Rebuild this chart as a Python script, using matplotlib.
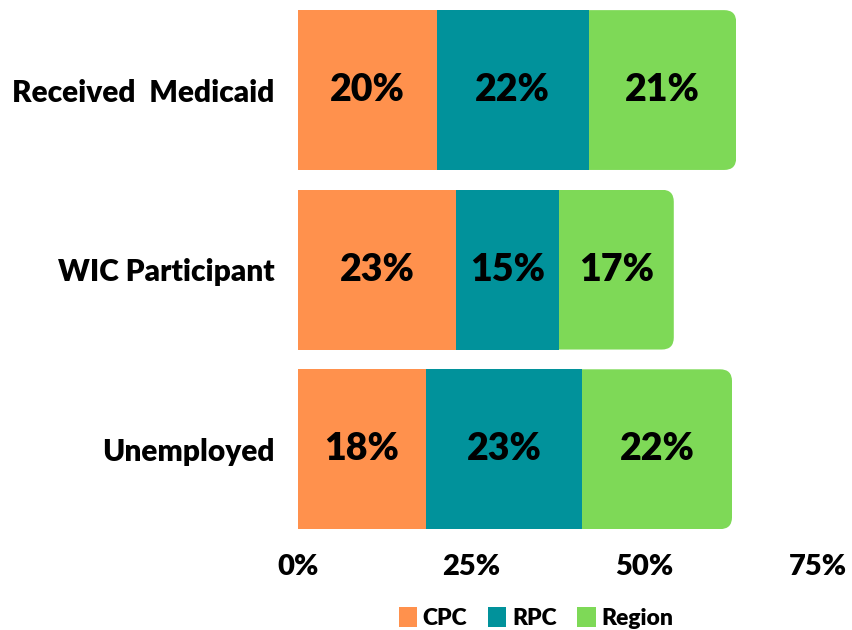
import matplotlib
matplotlib.use("Agg")
import matplotlib.pyplot as plt
from matplotlib.patches import FancyBboxPatch, Patch

categories = ["Received  Medicaid", "WIC Participant", "Unemployed"]
series_names = ["CPC", "RPC", "Region"]
cpc = [20.0, 22.8, 18.4]
rpc = [21.9, 14.8, 22.6]
region = [21.3, 16.6, 21.6]
labels_cpc = ["20%", "23%", "18%"]
labels_rpc = ["22%", "15%", "23%"]
labels_region = ["21%", "17%", "22%"]
xticks = [0, 25, 50, 75]
xticklabels = ["0%", "25%", "50%", "75%"]

colors = ["#FF914D", "#01929B", "#7ED957"]
FONT = ["Lato", "DejaVu Sans"]
plt.rcParams['font.family'] = FONT
WEIGHT = "heavy"

W, H = 852, 630
fig = plt.figure(figsize=(W / 100, H / 100), dpi=100)
left, right = 298 / W, 818 / W
top, bottom = 1 - 0.25 / H, 1 - 539 / H
ax = fig.add_axes([left, bottom, right - left, top - bottom])

y = list(range(len(categories)))
h = 0.89
b1 = ax.barh(y, cpc, height=h, color=colors[0], linewidth=0)
lefts2 = cpc
b2 = ax.barh(y, rpc, left=lefts2, height=h, color=colors[1], linewidth=0)
lefts3 = [a + b for a, b in zip(cpc, rpc)]
b3 = ax.barh(y, region, left=lefts3, height=h, color=colors[2], linewidth=0)

ax.set_xlim(0, 75)
ax.set_ylim(len(categories) - 0.5, -0.5)

# rounded right corners on the last segment
px_x = (right - left) * W / 75.0
px_y = (top - bottom) * H / len(categories)
r_px = 12
for i, rect in enumerate(b3):
    total = lefts3[i] + region[i]
    clip = FancyBboxPatch((0, y[i] - h / 2), total, h,
                          boxstyle=f"round,pad=0,rounding_size={r_px / px_x}",
                          mutation_aspect=px_x / px_y,
                          transform=ax.transData, facecolor="none", edgecolor="none")
    ax.add_patch(clip)
    rect.set_clip_path(clip)

for bars, labs in [(b1, labels_cpc), (b2, labels_rpc), (b3, labels_region)]:
    ax.bar_label(bars, labels=labs, label_type="center", fontsize=27,
                 fontweight=WEIGHT, color="black")

ax.set_yticks(y)
ax.set_yticklabels(categories, fontsize=21.5, fontweight=WEIGHT)
ax.set_xticks(xticks)
ax.set_xticklabels(xticklabels, fontsize=21, fontweight=WEIGHT)
ax.tick_params(axis="both", length=0)
ax.tick_params(axis="y", pad=17)
ax.tick_params(axis="x", pad=11)
for s in ax.spines.values():
    s.set_visible(False)

handles = [Patch(facecolor=c, edgecolor="none") for c in colors]
fig.legend(handles, series_names, loc="center", bbox_to_anchor=(536 / W, 1 - 618 / H),
           ncol=3, frameon=False, prop={"family": FONT, "weight": WEIGHT, "size": 16.5},
           handlelength=0.8, handleheight=1.0, handletextpad=0.25, columnspacing=0.9)

fig.savefig("out.png", dpi=100)
